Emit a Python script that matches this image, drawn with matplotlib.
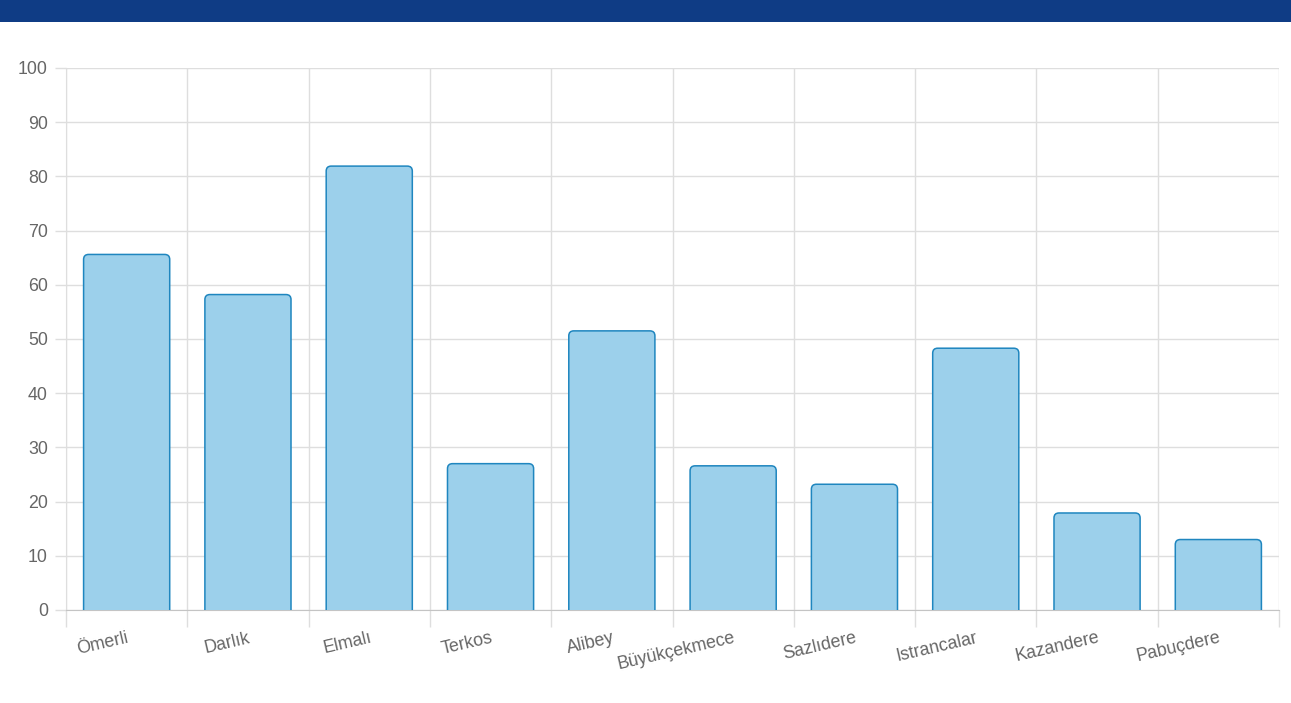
import matplotlib.pyplot as plt
import numpy as np
from matplotlib.patches import FancyBboxPatch, Rectangle

names = ["Ömerli", "Darlık", "Elmalı", "Terkos", "Alibey",
         "Büyükçekmece", "Sazlıdere", "Istrancalar", "Kazandere", "Pabuçdere"]
values = [65.6, 58.2, 81.9, 27.0, 51.5, 26.6, 23.2, 48.3, 17.9, 13.0]
yticks = list(range(0, 101, 10))

W, H = 1291, 703
plt.rcParams['font.family'] = ['Liberation Sans', 'DejaVu Sans']

fig = plt.figure(figsize=(W / 100, H / 100), dpi=100)
fig.patches.append(Rectangle((0, 1 - 22 / H), 1, 22 / H, transform=fig.transFigure,
                             facecolor='#0f3c85', edgecolor='none'))

ax = fig.add_axes([66 / W, 1 - 610 / H, (1279 - 66) / W, (610 - 68) / H])
x = np.arange(len(names))
ax.set_xlim(-0.5, len(names) - 0.5)
ax.set_ylim(0, 100)

bars = ax.bar(x, values, width=0.71)
# swap plain rectangles for ones with rounded top corners
px_x = (1279 - 66) / len(names)
px_y = (610 - 68) / 100
r = 5 / px_x
for b in bars:
    bx, by = b.get_xy()
    p = FancyBboxPatch((bx, by - 3), b.get_width(), b.get_height() + 3,
                       boxstyle=f"round,pad=0,rounding_size={r}",
                       mutation_aspect=px_x / px_y,
                       facecolor='#9cd0eb', edgecolor='#1f86bf', linewidth=1.1,
                       zorder=3)
    p.set_clip_path(ax.patch)
    ax.add_patch(p)
    b.remove()

grid_c = '#dedede'
ax.set_yticks(yticks)
ax.set_xticks(x)
ax.set_xticklabels(names, rotation=13, ha='right', va='top', rotation_mode='anchor')
ax.set_xticks(np.arange(len(names) + 1) - 0.5, minor=True)
ax.grid(axis='y', color=grid_c, linewidth=1)
ax.grid(axis='x', which='minor', color=grid_c, linewidth=1)
ax.set_axisbelow(True)
ax.tick_params(axis='x', which='major', length=0, pad=14, labelsize=12.8, labelcolor='#666666')
ax.tick_params(axis='x', which='minor', length=12, color=grid_c, width=1)
ax.tick_params(axis='y', length=8, color=grid_c, width=1, pad=5, labelsize=12.8,
               labelcolor='#666666')
for s in ['top', 'right']:
    ax.spines[s].set_visible(False)
ax.spines['left'].set_color(grid_c)
ax.spines['bottom'].set_color('#c4c4c4')

fig.savefig("out.png", dpi=100)
